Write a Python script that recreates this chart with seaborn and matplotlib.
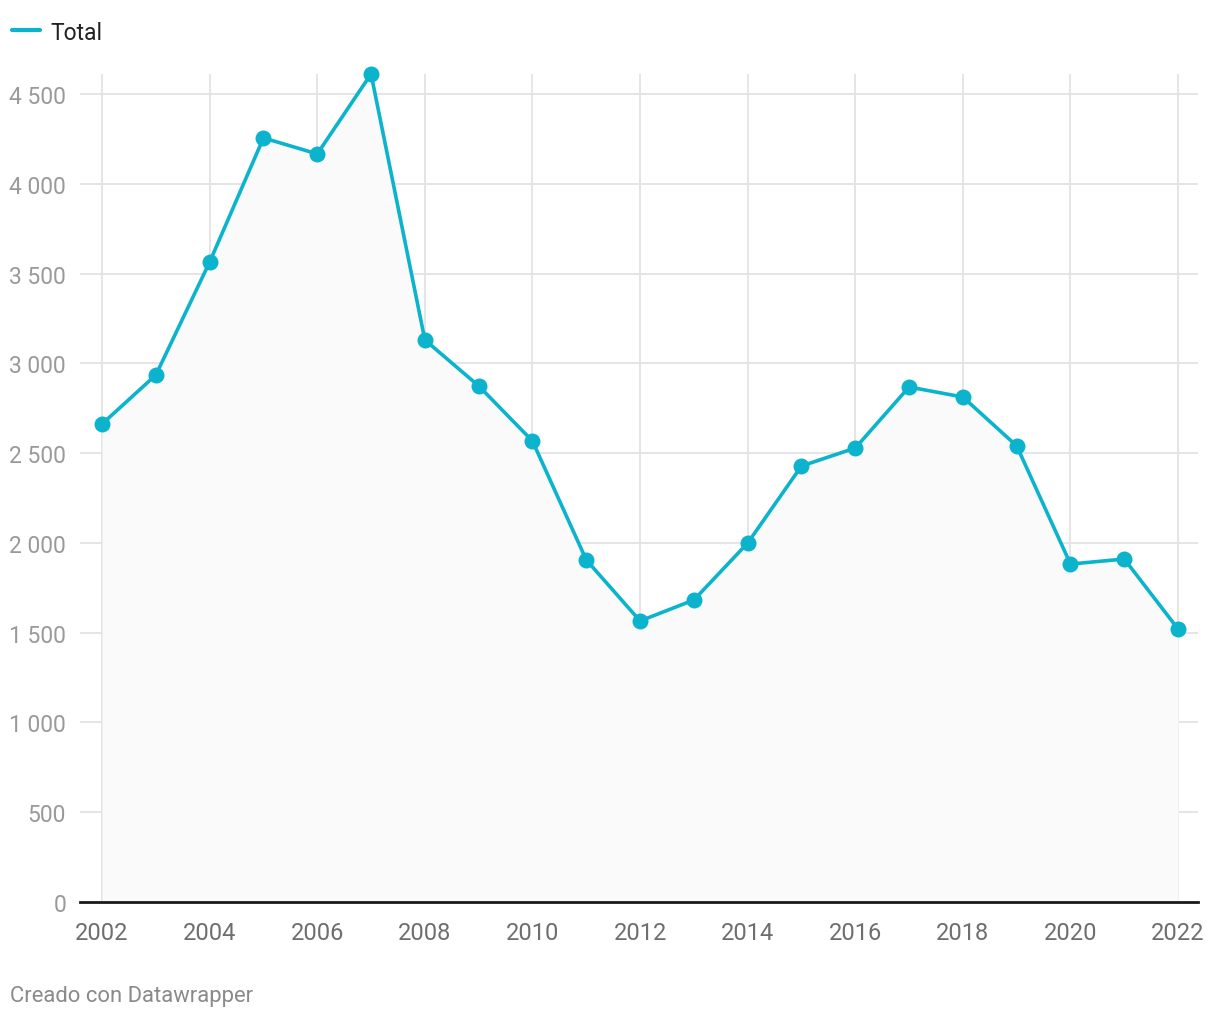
import pandas as pd
import matplotlib.pyplot as plt
import seaborn as sns

# Datos
anios = list(range(2002, 2023))
total = [2662, 2935, 3564, 4255, 4166, 4611, 3130, 2874, 2567, 1905,
         1565, 1682, 1999, 2428, 2528, 2868, 2812, 2540, 1882, 1910, 1520]

df = pd.DataFrame({'Año': anios, 'Total': total})

yticks = [0, 500, 1000, 1500, 2000, 2500, 3000, 3500, 4000, 4500]
xticks = list(range(2002, 2023, 2))

sns.set_style("white")
plt.rcParams['font.family'] = ['Roboto', 'DejaVu Sans']

color = '#0bb4cc'

fig = plt.figure(figsize=(12.2, 10.2), dpi=100)
ax = fig.add_axes([80 / 1220, 117 / 1020, 1118 / 1220, 828 / 1020])

# Área bajo la línea
ax.fill_between(df['Año'], df['Total'], 0, color='#fafafa', zorder=1, linewidth=0)

sns.lineplot(data=df, x='Año', y='Total', ax=ax, color=color, linewidth=2.6,
             marker='o', markersize=11.5, markeredgewidth=0, zorder=3, clip_on=False)

ax.set_xlim(2001.59, 2022.37)
ax.set_ylim(0, 4611)
ax.set_xticks(xticks)
ax.set_yticks(yticks)
ax.set_yticklabels([f'{v:,}'.replace(',', ' ') for v in yticks])
ax.set_xlabel('')
ax.set_ylabel('')

ax.grid(True, color='#e3e3e3', linewidth=1.3, zorder=0)
ax.set_axisbelow(True)
for s in ['top', 'right', 'left']:
    ax.spines[s].set_visible(False)
ax.spines['bottom'].set_color('#1a1a1a')
ax.spines['bottom'].set_linewidth(2)
ax.spines['bottom'].set_zorder(4)

ax.tick_params(axis='y', length=0, pad=10, labelsize=16.5, labelcolor='#9a9a9a')
ax.tick_params(axis='x', length=0, pad=14, labelsize=17, labelcolor='#6e6e6e')

# Leyenda
fig.add_artist(plt.Line2D([12 / 1220, 40 / 1220], [1 - 31 / 1020, 1 - 31 / 1020],
                          color=color, linewidth=3, solid_capstyle='round'))
fig.text(50 / 1220, 1 - 33 / 1020, 'Total', fontsize=16.5, color='#222222', va='center')

fig.text(10 / 1220, 1 - 997 / 1020, 'Creado con Datawrapper', fontsize=15.8,
         color='#8a8a8a', va='center')

fig.savefig('out.png', dpi=100, facecolor='white')
